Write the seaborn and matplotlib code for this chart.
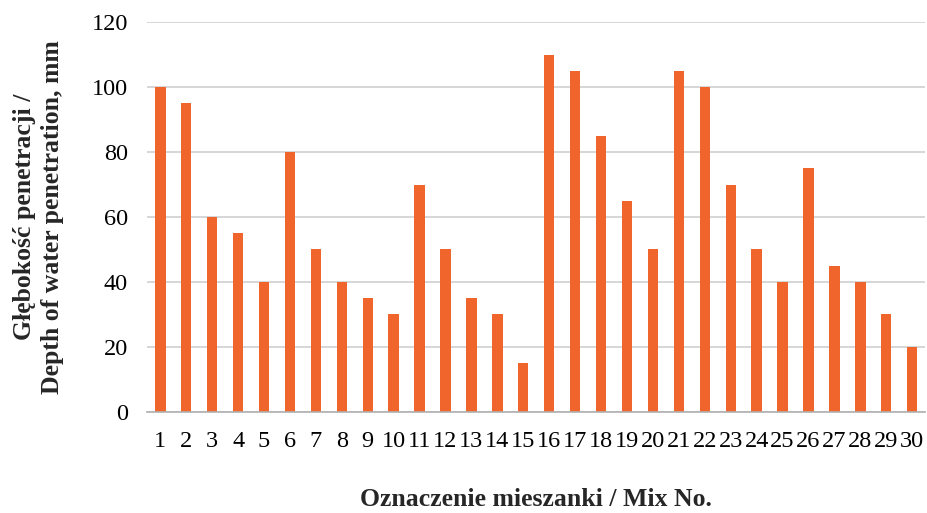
import pandas as pd
import matplotlib
matplotlib.use("Agg")
import matplotlib.pyplot as plt
import seaborn as sns

mix_no = [str(i) for i in range(1, 31)]
depth = [100, 95, 60, 55, 40, 80, 50, 40, 35, 30,
         70, 50, 35, 30, 15, 110, 105, 85, 65, 50,
         105, 100, 70, 50, 40, 75, 45, 40, 30, 20]
y_ticks = [0, 20, 40, 60, 80, 100, 120]

df = pd.DataFrame({"Mix": mix_no, "Depth": depth})

sns.set_theme(style="white")
plt.rcParams["font.family"] = ["Liberation Serif", "DejaVu Serif"]

fig = plt.figure(figsize=(9.27, 5.13), dpi=100)
ax = fig.add_axes([0.159, 0.197, 0.839, 0.76])

sns.barplot(data=df, x="Mix", y="Depth", color="#F0652B", saturation=1,
            width=0.4, linewidth=0, ax=ax)

ax.set_ylim(0, 120)
ax.set_xlim(-0.5, 29.5)
ax.set_yticks(y_ticks)
ax.yaxis.grid(True, color="#D0D0D0", linewidth=1.2)
ax.set_axisbelow(True)
for s in ["top", "right", "left"]:
    ax.spines[s].set_visible(False)
ax.spines["bottom"].set_color("#B0B0B0")
ax.spines["bottom"].set_linewidth(1.2)
ax.tick_params(axis="both", length=0, labelsize=17.5, colors="black")
ax.tick_params(axis="x", pad=14)
ax.tick_params(axis="y", pad=14)

ax.set_xlabel("Oznaczenie mieszanki / Mix No.", fontsize=18.5, fontweight="bold",
              labelpad=26)
ax.set_ylabel("Głębokość penetracji /\nDepth of water penetration, mm",
              fontsize=18.5, fontweight="bold", labelpad=20, linespacing=1.25)

fig.savefig("out.png", dpi=100)
